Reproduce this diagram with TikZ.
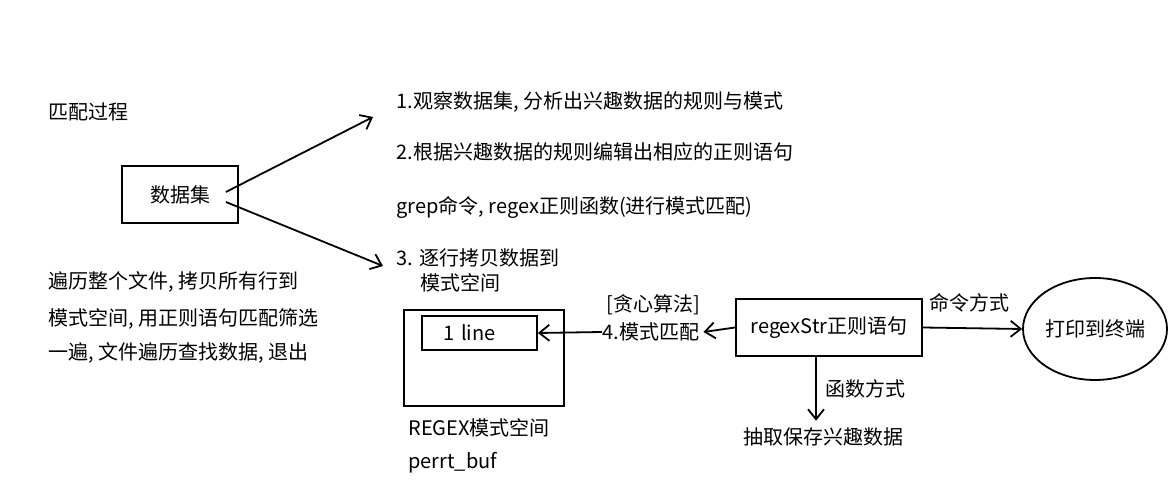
\documentclass[tikz,border=0pt]{standalone}
\usepackage{fontspec}
\setmainfont{Noto Sans CJK SC}
\usetikzlibrary{arrows.meta,shapes.geometric}

\begin{document}
\begin{tikzpicture}[x=0.5pt, y=-0.5pt, font=\fontsize{10}{12}\selectfont,
    box/.style={draw, line width=0.9pt},
    txt/.style={anchor=west, inner sep=0pt},
    arr/.style={line width=0.9pt, -{Straight Barb[length=5pt, width=8pt]}}]
  \useasboundingbox (0,0) rectangle (1171,490);

  \node[txt] (title) at (48,112) {匹配过程};
  \node[box, minimum width=58pt, minimum height=28.5pt] (data) at (180,194.5) {数据集};

  \node[txt] (walk1) at (48,282) {遍历整个文件, 拷贝所有行到};
  \node[txt] (walk2) at (48,319) {模式空间, 用正则语句匹配筛选};
  \node[txt] (walk3) at (48,353) {一遍, 文件遍历查找数据, 退出};

  \node[txt] (step1) at (396,102) {1.观察数据集, 分析出兴趣数据的规则与模式};
  \node[txt] (step2) at (396,152) {2.根据兴趣数据的规则编辑出相应的正则语句};
  \node[txt] (grep) at (396,207) {grep命令, regex正则函数(进行模式匹配)};
  \node[txt] (step3) at (396,258) {3. 逐行拷贝数据到};
  \node[txt] (step3b) at (420,283) {模式空间};

  \coordinate (c1) at (373,117);
  \coordinate (c3) at (383,266);
  \draw[arr] ([shift={(-6.5pt,1.25pt)}]data.east) -- (c1);
  \draw[arr] ([shift={(-6.5pt,-3.75pt)}]data.east) -- (c3);

  % pattern space
  \node[box, minimum width=80pt, minimum height=48pt] (space) at (484,358) {};
  \node[box, minimum width=57.5pt, minimum height=17pt, text width=36pt, align=left] (line) at (479.5,333) {1 line};
  \node[txt] (spname) at (408,428) {REGEX模式空间};
  \node[txt] (buf) at (408,463) {perrt\_buf};

  \node[txt] (greedy) at (606,305) {[贪心算法]};
  \node[txt] (match) at (602,332) {4.模式匹配};

  \node[box, minimum width=93pt, minimum height=28.5pt] (regex) at (829,327.5) {regexStr正则语句};
  \node[draw, ellipse, line width=0.9pt, inner sep=0pt, minimum width=72pt, minimum height=51pt] (term) at (1095,329) {打印到终端};
  \node[txt] (cmd) at (929,303) {命令方式};
  \node[txt] (func) at (825,389) {函数方式};
  \node (extract) at (823,437) {抽取保存兴趣数据};

  \draw[arr] (match.west) -- (line.east);
  \draw[arr] (regex.west) -- ([xshift=2pt]match.east);
  \draw[arr] (regex.east) -- (term.west);
  \draw[arr] ([xshift=-6.5pt]regex.south) -- ([xshift=-6.5pt]regex.south |- extract.north);
\end{tikzpicture}
\end{document}
